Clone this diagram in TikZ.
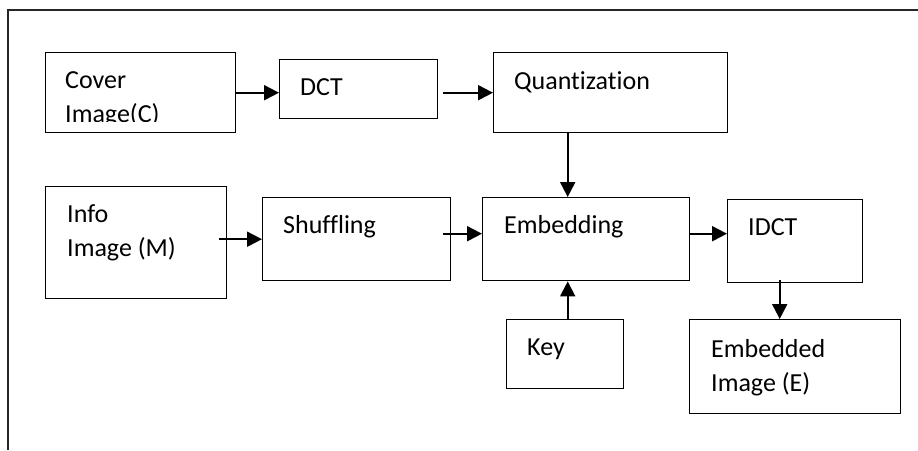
\documentclass[tikz,border=0pt]{standalone}
\usepackage{fontspec}
\setmainfont[Ligatures=NoCommon]{Carlito}
\usetikzlibrary{arrows.meta}

\tikzset{
  box/.style={draw=black, line width=1.4pt, fill=white, inner sep=0pt, anchor=north west},
  lbl/.style={inner sep=0pt, anchor=base west, font=\fontsize{26}{34}\selectfont, text=black},
  arr/.style={draw=black, line width=2pt, -{Triangle[length=15pt, width=15pt]}},
  frame/.style={draw=black!85, line width=2pt}
}

\begin{document}
\begin{tikzpicture}[x=1pt, y=-1pt]
  \useasboundingbox (0,0) rectangle (918,450);

  % outer frame (top and left edges only)
  \coordinate (fbl) at (8,450);
  \coordinate (ftl) at (8,10);
  \coordinate (ftr) at (918,10);
  \draw[frame] (fbl) -- (ftl) -- (ftr);

  % blocks
  \node[box, minimum width=190pt, minimum height=80pt] (cover) at (45,52) {};
  \node[box, minimum width=158pt, minimum height=59pt] (dct)   at (279,59) {};
  \node[box, minimum width=234pt, minimum height=80pt] (quant) at (493,52) {};
  \node[box, minimum width=181pt, minimum height=112pt] (info) at (45,186) {};
  \node[box, minimum width=188pt, minimum height=83pt] (shuf)  at (262,197) {};
  \node[box, minimum width=207pt, minimum height=83pt] (emb)   at (482,197) {};
  \node[box, minimum width=135pt, minimum height=83pt] (idct)  at (727,199) {};
  \node[box, minimum width=117pt, minimum height=69pt] (key)   at (506,319) {};
  \node[box, minimum width=211pt, minimum height=94pt] (embd)  at (689,319) {};

  % labels
  \node[lbl] (coverA) at (65,88) {Cover};
  \begin{scope}
    \clip (46,60) rectangle (234,121);
    \node[lbl] (coverB) at (65,122) {Image(C)};
  \end{scope}
  \node[lbl] (dctT)   at (300,95)  {DCT};
  \node[lbl] (quantT) at (514,89)  {Quantization};
  \node[lbl] (infoA)  at (67,222)  {Info};
  \node[lbl] (infoB)  at (67,256)  {Image (M)};
  \node[lbl] (shufT)  at (283,233) {Shuffling};
  \node[lbl] (embT)   at (504,233) {Embedding};
  \node[lbl] (idctT)  at (748,235) {IDCT};
  \node[lbl] (keyT)   at (527,355) {Key};
  \node[lbl] (embdA)  at (711,357) {Embedded};
  \node[lbl] (embdB)  at (711,391) {Image (E)};

  % connectors
  \draw[arr] (cover.east) -- (cover.east -| dct.west);
  \draw[arr] ([xshift=5pt]quant.west -| dct.east) -- (quant.west);
  \draw[arr] ([xshift=2.5pt]key.north |- quant.south) -- ([xshift=2.5pt]key.north |- emb.north);
  \draw[arr] ([xshift=-8pt]info.east |- shuf.west) -- (shuf.west);
  \draw[arr] ([xshift=-8pt, yshift=5.5pt]shuf.east) -- ([yshift=5.5pt]emb.west);
  \draw[arr] ([yshift=5.5pt]emb.east) -- ([yshift=5.5pt]emb.east -| idct.west);
  \draw[arr] ([xshift=-15.5pt, yshift=3pt]idct.south) -- ([xshift=-15.5pt]embd.north);
  \draw[arr] ([xshift=2.5pt]key.north) -- ([xshift=2.5pt]key.north |- emb.south);
\end{tikzpicture}
\end{document}
